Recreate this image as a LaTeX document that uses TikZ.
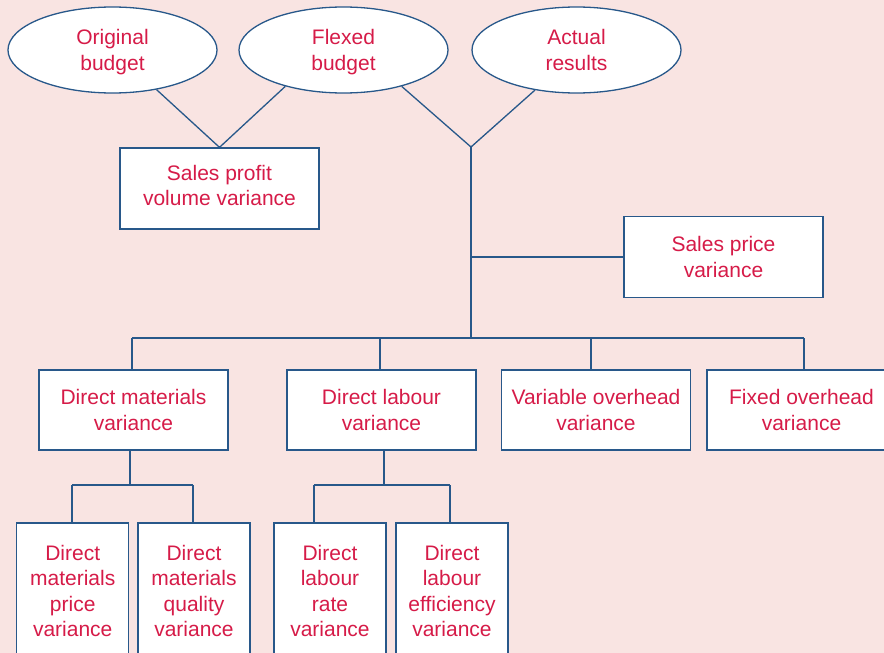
\documentclass[tikz,border=0pt]{standalone}
\usepackage{fontspec}
\setmainfont{Liberation Sans}
\usetikzlibrary{shapes.geometric}
\definecolor{bg}{RGB}{249,228,226}
\definecolor{ink}{RGB}{214,27,72}
\definecolor{edge}{RGB}{40,88,138}
\begin{document}
\begin{tikzpicture}[x=1pt,y=-1pt,
  every node/.style={font=\fontsize{21}{25.5}\selectfont, text=ink, align=center, inner sep=0pt},
  oval/.style={ellipse, draw=edge, fill=white, line width=1.3pt, minimum width=209pt, minimum height=86pt, text depth=0pt},
  box/.style={rectangle, draw=edge, fill=white, line width=1.3pt},
  midbox/.style={box, minimum width=189pt, minimum height=80pt},
  leafbox/.style={box, minimum width=112pt, minimum height=136pt},
  link/.style={draw=edge, line width=1.3pt}]
\clip (0,0) rectangle (884,653);
\fill[bg] (0,0) rectangle (884,653);

% source figures
\node[oval] (orig) at (112.5,50) {Original\\budget};
\node[oval] (flex) at (343.5,50) {Flexed\\budget};
\node[oval] (act)  at (576.5,50) {Actual\\results};

% sales variances
\node[box, minimum width=199pt, minimum height=81pt, text depth=6pt] (spv) at (219.5,188.5) {Sales profit\\volume variance};
\node[box, minimum width=199pt, minimum height=81pt] (spr) at (723.5,257) {Sales price\\variance};

% cost variances
\node[midbox] (dm) at (133.5,410) {Direct materials\\variance};
\node[midbox] (dl) at (381.5,410) {Direct labour\\variance};
\node[midbox] (vo) at (596,410) {Variable overhead\\variance};
\node[midbox] (fo) at (801.5,410) {Fixed overhead\\variance};

% detailed variances
\node[leafbox] (dmp) at (72.7,591) {Direct\\materials\\price\\variance};
\node[leafbox] (dmq) at (194,591) {Direct\\materials\\quality\\variance};
\node[leafbox] (dlr) at (330,591) {Direct\\labour\\rate\\variance};
\node[leafbox] (dle) at (452,591) {Direct\\labour\\efficiency\\variance};

% junctions and drop points
\coordinate (j) at (471,147);
\coordinate (b) at (471,338);
\coordinate (xdm) at (132,338);
\coordinate (xdl) at (380,338);
\coordinate (xvo) at (591,338);
\coordinate (xfo) at (804,338);
\coordinate (s1) at (130,485);
\coordinate (s2) at (384,485);
\coordinate (xdmp) at (72,485);
\coordinate (xdmq) at (193,485);
\coordinate (xdlr) at (314,485);
\coordinate (xdle) at (450,485);

% connectors
\draw[link] (orig.-42) -- (spv.north) -- (flex.-148);
\draw[link] (flex.-32) -- (j) -- (act.-136);
\draw[link] (j) -- (b);
\draw[link] (spr.west) -- (spr.west -| j);
\draw[link] (xdm) -- (xfo);
\draw[link] (xdm) -- (xdm |- dm.north);
\draw[link] (xdl) -- (xdl |- dl.north);
\draw[link] (xvo) -- (xvo |- vo.north);
\draw[link] (xfo) -- (xfo |- fo.north);
\draw[link] (s1 |- dm.south) -- (s1);
\draw[link] (xdmp) -- (xdmq);
\draw[link] (xdmp) -- (xdmp |- dmp.north);
\draw[link] (xdmq) -- (xdmq |- dmq.north);
\draw[link] (s2 |- dl.south) -- (s2);
\draw[link] (xdlr) -- (xdle);
\draw[link] (xdlr) -- (xdlr |- dlr.north);
\draw[link] (xdle) -- (xdle |- dle.north);
\end{tikzpicture}
\end{document}
